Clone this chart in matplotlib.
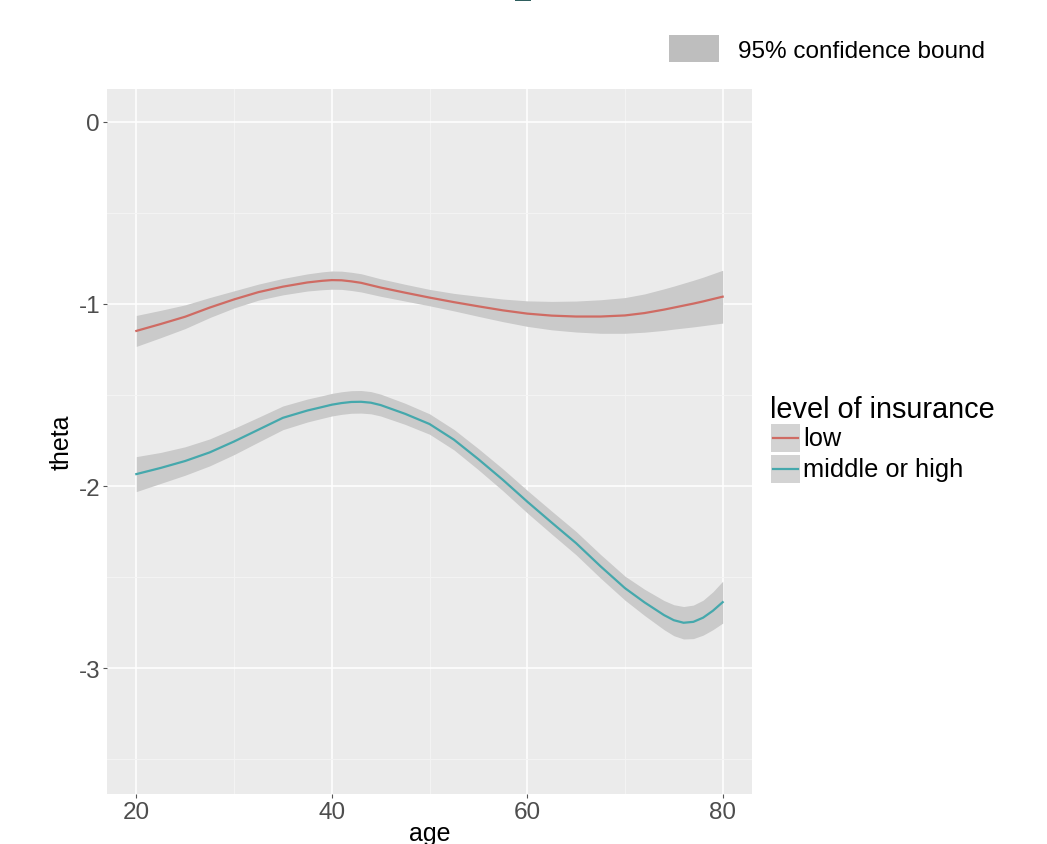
import matplotlib
matplotlib.use("Agg")
import matplotlib.pyplot as plt
from matplotlib.patches import Rectangle
from matplotlib.lines import Line2D

plt.rcParams['font.family'] = ['Liberation Sans', 'DejaVu Sans']
plt.rcParams['axes.unicode_minus'] = False

# smoothed theta by age, with 95% bounds
age = [20, 22.5, 25, 27.5, 30, 32.5, 35, 37.5, 39, 40, 41, 42, 43, 44, 45,
       47.5, 50, 52.5, 55, 57.5, 60, 62.5, 65, 67.5, 70,
       72, 74, 75, 76, 77, 78, 79, 80]

low_fit = [-1.148, -1.110, -1.070, -1.020, -0.975, -0.935, -0.905, -0.882, -0.873,
           -0.869, -0.870, -0.876, -0.884, -0.897, -0.910,
           -0.938, -0.965, -0.990, -1.013, -1.035, -1.053, -1.064, -1.069, -1.069, -1.063,
           -1.050, -1.031, -1.020, -1.009, -0.998, -0.986, -0.973, -0.960]
low_upper = [-1.063, -1.035, -1.005, -0.965, -0.928, -0.891, -0.860, -0.835, -0.824,
             -0.819, -0.820, -0.826, -0.834, -0.848, -0.862,
             -0.892, -0.920, -0.942, -0.958, -0.973, -0.983, -0.986, -0.984, -0.977, -0.965,
             -0.945, -0.917, -0.902, -0.886, -0.870, -0.853, -0.834, -0.815]
low_lower = [-1.233, -1.185, -1.135, -1.075, -1.022, -0.979, -0.950, -0.929, -0.922,
             -0.919, -0.920, -0.926, -0.934, -0.946, -0.958,
             -0.984, -1.010, -1.038, -1.068, -1.097, -1.123, -1.142, -1.154, -1.161, -1.161,
             -1.155, -1.145, -1.138, -1.132, -1.126, -1.119, -1.112, -1.105]

high_fit = [-1.934, -1.900, -1.862, -1.815, -1.755, -1.690, -1.625, -1.585, -1.566,
            -1.553, -1.544, -1.538, -1.537, -1.542, -1.555,
            -1.603, -1.659, -1.745, -1.852, -1.965, -2.085, -2.200, -2.313, -2.440, -2.560,
            -2.638, -2.708, -2.736, -2.750, -2.745, -2.722, -2.684, -2.637]
high_upper = [-1.838, -1.815, -1.784, -1.741, -1.683, -1.622, -1.560, -1.522, -1.504,
              -1.491, -1.482, -1.476, -1.475, -1.481, -1.495,
              -1.545, -1.603, -1.689, -1.794, -1.905, -2.023, -2.137, -2.249, -2.375, -2.494,
              -2.566, -2.628, -2.651, -2.661, -2.653, -2.626, -2.580, -2.522]
high_lower = [-2.030, -1.985, -1.940, -1.889, -1.827, -1.758, -1.690, -1.648, -1.628,
              -1.615, -1.606, -1.600, -1.599, -1.603, -1.615,
              -1.661, -1.715, -1.801, -1.910, -2.025, -2.147, -2.263, -2.377, -2.505, -2.626,
              -2.710, -2.788, -2.821, -2.839, -2.837, -2.818, -2.788, -2.752]

groups = ['low', 'middle or high']
colors = ['#cf6b63', '#45a8ac']
x_ticks = [20, 40, 60, 80]
x_minor = [30, 50, 70]
y_ticks = [0, -1, -2, -3]
y_minor = [-0.5, -1.5, -2.5, -3.5]

W, H = 1047, 845
fig = plt.figure(figsize=(W / 100, H / 100), dpi=100)


def fx(px):
    return px / W


def fy(py):
    return 1 - py / H


ax = fig.add_axes([fx(107), fy(795), (752 - 107) / W, (795 - 90) / H])
ax.set_facecolor('#EBEBEB')
for s in ax.spines.values():
    s.set_visible(False)

ax.set_xlim(17, 83)
ax.set_ylim(-3.69, 0.18)
ax.set_xticks(x_ticks)
ax.set_xticks(x_minor, minor=True)
ax.set_yticks(y_ticks)
ax.set_yticks(y_minor, minor=True)
ax.set_yticklabels([str(v) for v in y_ticks])
ax.grid(which='major', color='white', lw=1.1)
ax.grid(which='minor', color='#F4F4F4', lw=0.7)
ax.set_axisbelow(True)
ax.tick_params(which='major', length=3, width=0.8, color='#555555',
               labelsize=17.5, labelcolor='#4D4D4D', pad=2)
ax.tick_params(which='minor', length=0)

band = '#CACACA'
ax.fill_between(age, low_lower, low_upper, color=band, lw=0)
ax.fill_between(age, high_lower, high_upper, color=band, lw=0)
ax.plot(age, low_fit, color=colors[0], lw=1.6, solid_joinstyle='round')
ax.plot(age, high_fit, color=colors[1], lw=1.6, solid_joinstyle='round')

ax.set_xlabel('age', fontsize=18, color='black', va='baseline')
ax.xaxis.set_label_coords(0.5, (795 - 841) / (795 - 90))
ax.set_ylabel('theta', fontsize=18, color='black', va='center')
ax.yaxis.set_label_coords((62 - 107) / (752 - 107), 0.5)

# band legend on top
fig.add_artist(Rectangle((fx(669), fy(63)), 50 / W, 27 / H, transform=fig.transFigure,
                         facecolor='#BEBEBE', edgecolor='none'))
fig.text(fx(738), fy(52), '95% confidence bound', fontsize=17.5, ha='left', va='center')

# group legend
fig.text(fx(770), fy(410), 'level of insurance', fontsize=20.8, ha='left', va='center')
for i, (g, c) in enumerate(zip(groups, colors)):
    top = 425 + i * 31
    fig.add_artist(Rectangle((fx(771), fy(top + 28)), 29 / W, 28 / H,
                             transform=fig.transFigure, facecolor='#D3D3D3',
                             edgecolor='none'))
    yc = fy(top + 14)
    fig.add_artist(Line2D([fx(773), fx(798)], [yc, yc], transform=fig.transFigure,
                          color=c, lw=1.6))
    fig.text(fx(803), yc, g, fontsize=18.3, ha='left', va='center')

# small dark mark at the very top edge
fig.add_artist(Rectangle((fx(515), fy(2)), 16 / W, 2 / H, transform=fig.transFigure,
                         facecolor='#2F5E5E', edgecolor='none'))

fig.savefig('out.png', dpi=100)
